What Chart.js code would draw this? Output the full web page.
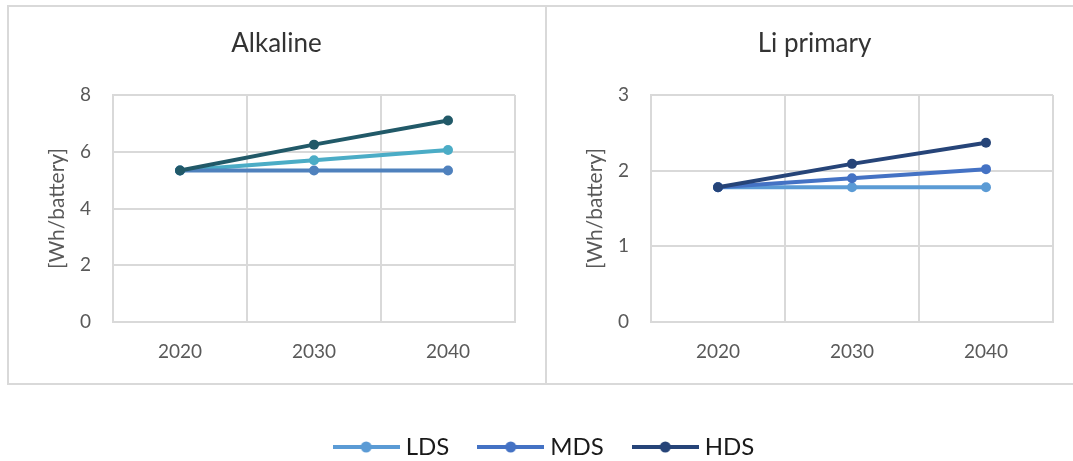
<!DOCTYPE html>
<html>
<head>
<meta charset="utf-8">
<script src="https://cdn.jsdelivr.net/npm/chart.js@4.4.1/dist/chart.umd.min.js"></script>
<style>
	html, body { margin: 0; padding: 0; background: #fff; }
	body { width: 1073px; height: 461px; overflow: hidden; position: relative; }
	.frame { position: absolute; box-sizing: border-box; border: 2px solid #d9d9d9; }
	canvas { position: absolute; }
</style>
</head>
<body>
<div class="frame" style="left:7px; top:5px; width:540px; height:380px;"></div>
<div class="frame" style="left:545px; top:5px; width:540px; height:380px;"></div>
<canvas id="alkaline" style="left:8px; top:6px;" width="537" height="378"></canvas>
<canvas id="liPrimary" style="left:546px; top:6px;" width="537" height="378"></canvas>
<canvas id="legend" style="left:10px; top:401px;" width="1073" height="120"></canvas>
<script>
const years = ["2020", "2030", "2040"];
const seriesNames = ["LDS", "MDS", "HDS"];

// Alkaline [Wh/battery]
const alkalineLDS = [5.34, 5.70, 6.06];
const alkalineMDS = [5.34, 5.34, 5.34];
const alkalineHDS = [5.34, 6.25, 7.10];

// Li primary [Wh/battery]
const liLDS = [1.78, 1.78, 1.78];
const liMDS = [1.78, 1.90, 2.02];
const liHDS = [1.78, 2.09, 2.37];

const alkalineColors = ["#4bacc6", "#4f81bd", "#215968"];
const liColors = ["#5b9bd5", "#4472c4", "#264478"];

const FONT = "Lato, 'Open Sans', sans-serif";
const GRID = "#d9d9d9";

Chart.defaults.font.family = FONT;
Chart.defaults.animation = false;

const createPanel = (element, title, [...values], [...colors], yMax, yStep) => {
	const datasets = values.map((data, i) => ({
		label: seriesNames[i],
		data,
		borderColor: colors[i],
		backgroundColor: colors[i],
		borderWidth: 4,
		pointRadius: 5,
		pointBorderWidth: 0,
		pointHoverRadius: 5,
		order: values.length - i
	}));

	return new Chart(element, {
		type: "line",
		data: {labels: years, datasets},
		options: {
			responsive: false,
			layout: {padding: {top: 0, right: 15, bottom: 0, left: 15}},
			plugins: {
				legend: {display: false},
				tooltip: {enabled: false},
				title: {
					display: true,
					text: title,
					color: "#333333",
					font: {size: 26, weight: "normal", lineHeight: 1.2},
					padding: {top: 22, bottom: 35.8}
				}
			},
			scales: {
				x: {
					offset: true,
					grid: {color: GRID, lineWidth: 2, offset: true, drawTicks: false},
					border: {color: GRID, width: 2},
					ticks: {color: "#595959", font: {size: 19}, padding: 18, maxRotation: 0},
					afterFit: (scale) => { scale.height = 62; }
				},
				y: {
					min: 0,
					max: yMax,
					grid: {color: GRID, lineWidth: 2, drawTicks: false},
					border: {color: GRID, width: 2},
					ticks: {stepSize: yStep, color: "#595959", font: {size: 19}, padding: 22},
					title: {
						display: true,
						text: "[Wh/battery]",
						color: "#595959",
						font: {size: 21, lineHeight: 1.2},
						padding: {top: 22, bottom: 0}
					},
					afterFit: (scale) => { scale.width = 90; }
				},
				// empty right-hand spacer so the title centres on the whole panel
				spacer: {
					type: "linear",
					position: "right",
					grid: {display: false, drawTicks: false},
					border: {display: false},
					ticks: {display: false},
					afterFit: (scale) => { scale.width = 15; }
				}
			}
		}
	});
};

createPanel(document.getElementById("alkaline"), "Alkaline",
	[alkalineLDS, alkalineMDS, alkalineHDS], alkalineColors, 8, 2);
createPanel(document.getElementById("liPrimary"), "Li primary",
	[liLDS, liMDS, liHDS], liColors, 3, 1);

// legend marker: line with a dot in the middle
const makeMarker = (color) => {
	const c = document.createElement("canvas");
	c.width = 67;
	c.height = 14;
	const ctx = c.getContext("2d");
	ctx.strokeStyle = color;
	ctx.lineWidth = 4;
	ctx.beginPath();
	ctx.moveTo(0, 7);
	ctx.lineTo(67, 7);
	ctx.stroke();
	ctx.fillStyle = color;
	ctx.beginPath();
	ctx.arc(33.5, 7, 5.5, 0, Math.PI * 2);
	ctx.fill();
	return c;
};
const markers = liColors.map(makeMarker);

new Chart(document.getElementById("legend"), {
	type: "line",
	data: {
		labels: [],
		datasets: seriesNames.map((label, i) => ({
			label,
			data: [],
			borderColor: liColors[i],
			backgroundColor: liColors[i]
		}))
	},
	options: {
		responsive: false,
		layout: {padding: 0},
		scales: {x: {display: false}, y: {display: false}},
		plugins: {
			tooltip: {enabled: false},
			legend: {
				position: "top",
				align: "center",
				labels: {
					usePointStyle: true,
					pointStyleWidth: 55,
					padding: 34,
					color: "#1a1a1a",
					font: {size: 24},
					generateLabels: (chart) => Chart.defaults.plugins.legend.labels
						.generateLabels(chart)
						.map((item, i) => ({...item, pointStyle: markers[i]}))
				}
			}
		}
	}
});
</script>
</body>
</html>
